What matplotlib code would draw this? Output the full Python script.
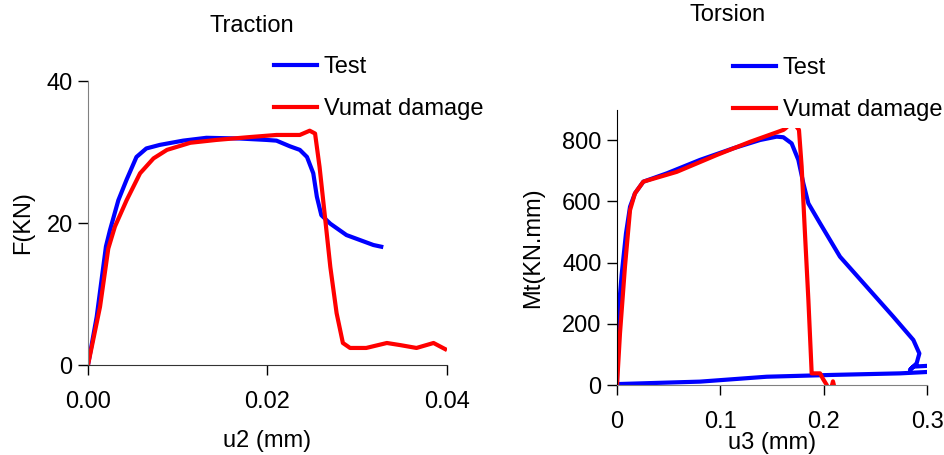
import matplotlib
matplotlib.use("Agg")
import matplotlib.pyplot as plt
import numpy as np

plt.rcParams['font.family'] = ['Liberation Sans', 'DejaVu Sans']
FS = 17

# Traction: u2 (mm) vs F (KN)
trac_test_u = [0.0, 0.00097, 0.0020, 0.00245, 0.00338, 0.0043, 0.0054, 0.0065, 0.0080,
               0.0106, 0.0132, 0.0169, 0.0199, 0.0210, 0.0225, 0.0236, 0.0244, 0.0251,
               0.0255, 0.0260, 0.0270, 0.0288, 0.0303, 0.0318, 0.0329]
trac_test_f = [0.0, 6.8, 16.7, 19.0, 23.2, 26.1, 29.3, 30.5, 31.0,
               31.6, 32.0, 31.9, 31.7, 31.6, 30.8, 30.3, 29.3, 27.0,
               23.7, 21.1, 19.9, 18.3, 17.6, 16.9, 16.6]
trac_vumat_u = [0.0, 0.00134, 0.00226, 0.0030, 0.0043, 0.0058, 0.0073, 0.0088, 0.0114,
                0.0143, 0.0180, 0.0210, 0.0236, 0.0247, 0.0253, 0.0258, 0.0264, 0.0270,
                0.0277, 0.0284, 0.0292, 0.0310, 0.0333, 0.0348, 0.0366, 0.0385, 0.0400]
trac_vumat_f = [0.0, 8.2, 16.4, 19.5, 23.2, 27.0, 29.1, 30.3, 31.3,
                31.7, 32.1, 32.4, 32.4, 33.0, 32.6, 27.9, 20.9, 13.8,
                7.3, 3.1, 2.4, 2.4, 3.1, 2.8, 2.4, 3.1, 2.1]

# Torsion: u3 (mm) vs Mt (KN.mm)
tors_test_u = [0.0, 0.0006, 0.0013, 0.0045, 0.0087, 0.0126, 0.0174, 0.0255, 0.0481, 0.0803,
               0.1126, 0.1384, 0.1545, 0.1610, 0.1690, 0.1755, 0.1803, 0.1852, 0.1965,
               0.2158, 0.2416, 0.2674, 0.2868, 0.2926, 0.2900, 0.2835, 0.2868, 0.303]
tors_test_m = [0, 150, 230, 360, 495, 582, 626, 664, 691, 735,
               773, 800, 811, 809, 789, 735, 659, 593, 528,
               419, 321, 223, 147, 103, 71, 49, 60, 63]
tors_test_back_u = [0.0, 0.0803, 0.1448, 0.2094, 0.2739, 0.303]
tors_test_back_m = [3, 11, 27, 33, 38, 43]
tors_vumat_u = [0.0, 0.0029, 0.0077, 0.0126, 0.0174, 0.0255, 0.0578, 0.0965, 0.1287,
                0.1610, 0.1630, 0.1700, 0.1761, 0.1787, 0.1819, 0.1852, 0.1874, 0.1884,
                0.1965, 0.1990, 0.2030, 0.2060, 0.2090, 0.2120]
tors_vumat_m = [0, 169, 386, 571, 626, 664, 696, 751, 794,
                833, 838, 860, 833, 713, 495, 278, 114, 38,
                38, 22, 0, -30, 12, -30]

BLUE = '#0000ff'
RED = '#ff0000'

fig = plt.figure(figsize=(9.45, 4.55), dpi=100)

# ---- Traction
ax1 = fig.add_axes([88/945, 1-365/455, (447-88)/945, (365-81)/455])
ax1.plot(trac_test_u, trac_test_f, color=BLUE, lw=3, label='Test')
ax1.plot(trac_vumat_u, trac_vumat_f, color=RED, lw=3, label='Vumat damage')
ax1.set_xlim(0, 0.04)
ax1.set_ylim(0, 40)
ax1.set_xticks([0.0, 0.02, 0.04])
ax1.set_xticklabels(['0.00', '0.02', '0.04'])
ax1.set_yticks([0, 20, 40])
ax1.set_xlabel('u2 (mm)', fontsize=FS, labelpad=12)
ax1.set_ylabel('F(KN)', fontsize=FS, labelpad=9)
ax1.spines['left'].set_color('#808080')
ax1.spines['bottom'].set_color('#333333')
fig.text(252/945, 1-26/455, 'Traction', fontsize=FS, ha='center', va='center')
ax1.legend(loc='upper left', bbox_to_anchor=(274/945, 1-56/455), bbox_transform=fig.transFigure,
           frameon=False, fontsize=FS, handlelength=1.8, handletextpad=0.3,
           labelspacing=0.85, borderpad=0, borderaxespad=0)

# ---- Torsion
ax2 = fig.add_axes([617/945, 1-385/455, (927-617)/945, (385-110)/455])
ax2.plot(tors_test_u, tors_test_m, color=BLUE, lw=3, label='Test')
ax2.plot(tors_test_back_u, tors_test_back_m, color=BLUE, lw=3)
ax2.plot(tors_vumat_u, tors_vumat_m, color=RED, lw=3, label='Vumat damage')
ax2.set_xlim(0, 0.3)
ax2.set_ylim(0, 898)
ax2.set_xticks([0, 0.1, 0.2, 0.3])
ax2.set_xticklabels(['0', '0.1', '0.2', '0.3'])
ax2.set_yticks([0, 200, 400, 600, 800])
ax2.set_xlabel('u3 (mm)', fontsize=FS, labelpad=-1)
ax2.set_ylabel('Mt(KN.mm)', fontsize=FS, labelpad=13)
ax2.spines['left'].set_color('black')
ax2.spines['bottom'].set_color('#808080')
fig.text(728/945, 1-15/455, 'Torsion', fontsize=FS, ha='center', va='center')
leg2 = ax2.legend(loc='upper left', bbox_to_anchor=(726/945, 1-50/455), bbox_transform=fig.transFigure,
                  frameon=True, facecolor='white', edgecolor='none', framealpha=1,
                  fontsize=FS, handlelength=1.8, handletextpad=0.3,
                  labelspacing=0.85, borderpad=0.3, borderaxespad=0)
leg2.set_zorder(10)

for ax in (ax1, ax2):
    ax.spines['top'].set_visible(False)
    ax.spines['right'].set_visible(False)
    ax.tick_params(labelsize=FS, length=7, width=1, direction='out')
    ax.tick_params(axis='x', pad=12)
    ax.tick_params(axis='y', pad=4)
    for line in ax.get_lines():
        line.set_solid_capstyle('butt')

fig.savefig('out.png', dpi=100)
